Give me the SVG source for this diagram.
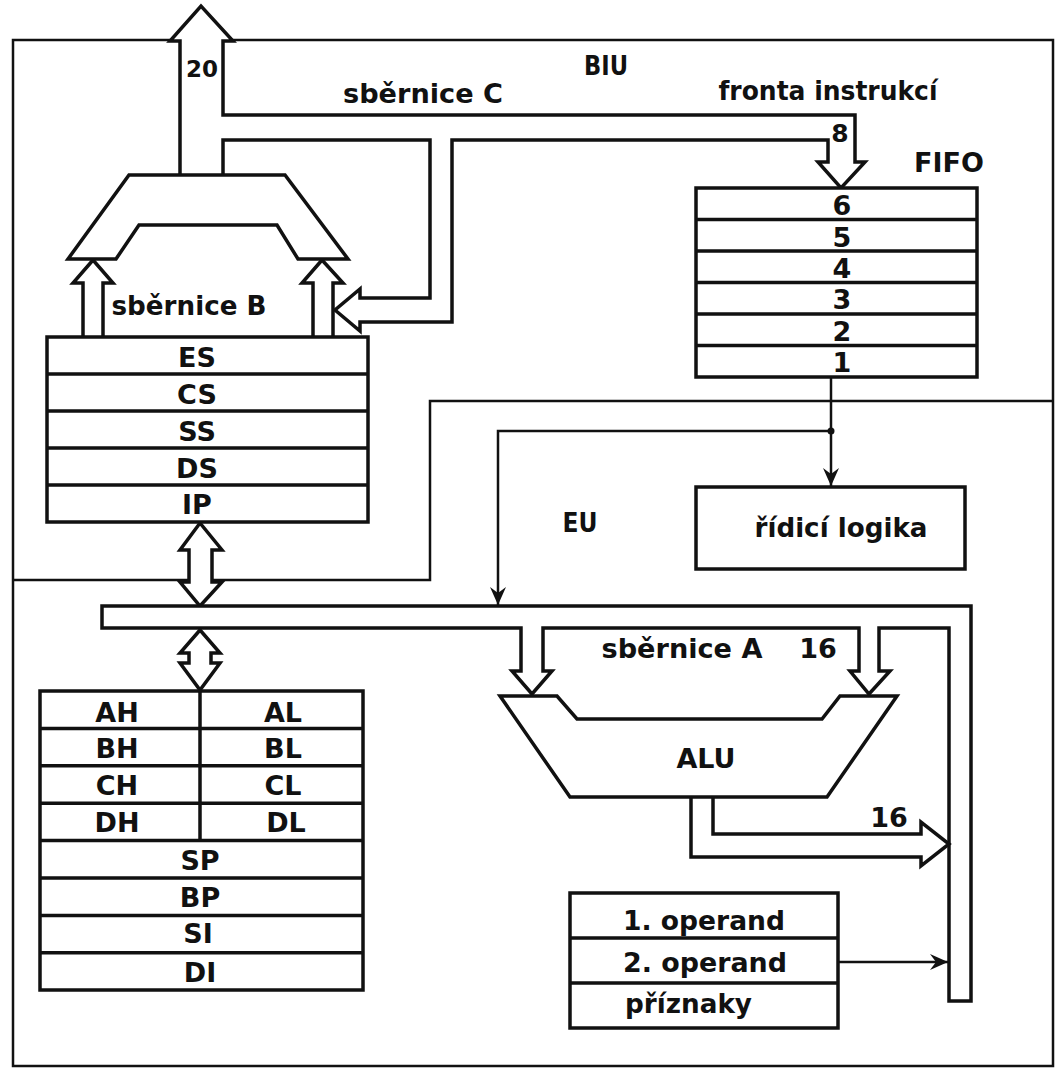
<svg xmlns="http://www.w3.org/2000/svg" width="1057" height="1071" viewBox="0 0 1057 1071">
<style>
.t{font-family:"DejaVu Sans","Liberation Sans",sans-serif;font-weight:bold;font-size:27px;fill:#111;text-anchor:middle}
.s{text-anchor:start}
.box{fill:#fff;stroke:#111;stroke-width:3.5}
.bus{fill:#fff;stroke:#111;stroke-width:3.5;stroke-linejoin:miter}
.ln{fill:none;stroke:#111;stroke-width:3.5}
.thin{fill:none;stroke:#111;stroke-width:2.5}
.frame{fill:none;stroke:#111;stroke-width:2.5}
</style>
<defs>
<marker id="ah" markerUnits="userSpaceOnUse" markerWidth="22" markerHeight="22" viewBox="-19 -11 22 22" refX="0" refY="0" orient="auto">
<path d="M0,0 L-18,-8 L-12,0 L-18,8 Z" fill="#111"/>
</marker>
</defs>
<rect width="1057" height="1071" fill="#fff"/>

<g id="frame">
<rect class="frame" x="13" y="40" width="1040" height="1026"/>
<path class="frame" d="M13,580 H430 V401 H1053"/>
<text class="t" x="606" y="75" textLength="44" lengthAdjust="spacingAndGlyphs">BIU</text>
<text class="t" x="580" y="532" textLength="35" lengthAdjust="spacingAndGlyphs">EU</text>
</g>

<g id="connectors">
<path class="bus" d="M180,175 V41 H170 L201,6 L233,41 H223 V115 H855 V162 H865 L841,188 L818,162 H828 V140 H452 V322 H360 V331 L335,310 L360,289 V298 H430 V140 H223 V175"/>
<path class="bus" d="M83,337 V283 H73 L93,260 L113,283 H103 V337"/>
<path class="bus" d="M313,337 V283 H302 L322,260 L343,283 H333 V337"/>
<path class="bus" d="M200,523 L222,550 H212 V582 H222 L200,606 L180,582 H189 V550 H180 Z"/>
<path class="bus" d="M102,606 H971 V1001 H949 V628 H879 V671 H890 L869,694 L850,671 H859 V628 H543 V671 H552 L532,694 L512,671 H521 V628 H102 Z"/>
<path class="bus" d="M200,630 L220,653 H211 V663 H220 L200,690 L180,663 H189 V653 H180 Z"/>
<path class="bus" d="M691,797 V857 H921 V866 L949,844 L921,822 V834 H713 V797"/>
<path class="thin" d="M831,377 V486" marker-end="url(#ah)"/>
<path class="thin" d="M831,431 H498 V605" marker-end="url(#ah)"/>
<circle cx="831" cy="431" r="3.5" fill="#111"/>
<path class="thin" d="M838,962 H948" marker-end="url(#ah)"/>
<text class="t" x="202" y="77" style="font-size:23px">20</text>
<text class="t" x="423" y="103" textLength="160" lengthAdjust="spacingAndGlyphs">sběrnice C</text>
<text class="t" x="828" y="100" textLength="219" lengthAdjust="spacingAndGlyphs">fronta instrukcí</text>
<text class="t" x="840" y="142" style="font-size:25px">8</text>
<text class="t" x="189" y="315" textLength="155" lengthAdjust="spacingAndGlyphs">sběrnice B</text>
<text class="t" x="682" y="658" textLength="161" lengthAdjust="spacingAndGlyphs">sběrnice A</text>
<text class="t" x="818" y="658">16</text>
<text class="t" x="889" y="827">16</text>
</g>

<g id="adder">
<path class="box" d="M129,175 H285 L348,259 H298 L277,225 H139 L116,259 H68 Z"/>
</g>

<g id="segment-registers">
<rect class="box" x="47" y="337" width="321" height="185"/>
<path class="ln" d="M47,374 H368 M47,411 H368 M47,448 H368 M47,485 H368"/>
<text class="t" x="197" y="367">ES</text>
<text class="t" x="197" y="404">CS</text>
<text class="t" x="197" y="441">SS</text>
<text class="t" x="197" y="478">DS</text>
<text class="t" x="197" y="514">IP</text>
</g>

<g id="fifo">
<rect class="box" x="696" y="188" width="281" height="189"/>
<path class="ln" d="M696,219.5 H977 M696,251 H977 M696,282.5 H977 M696,314 H977 M696,345.5 H977"/>
<text class="t" x="949" y="172">FIFO</text>
<text class="t" x="842" y="215">6</text>
<text class="t" x="842" y="247">5</text>
<text class="t" x="842" y="278">4</text>
<text class="t" x="842" y="309">3</text>
<text class="t" x="842" y="341">2</text>
<text class="t" x="842" y="372">1</text>
</g>

<g id="control-logic">
<rect class="box" x="696" y="487" width="269" height="82"/>
<text class="t" x="841" y="537" textLength="173" lengthAdjust="spacingAndGlyphs">řídicí logika</text>
</g>

<g id="general-registers">
<rect class="box" x="40" y="691" width="323" height="299"/>
<path class="ln" d="M40,728.4 H363 M40,765.8 H363 M40,803.2 H363 M40,840.6 H363 M40,878 H363 M40,915.4 H363 M40,952.8 H363 M200,691 V840.6"/>
<text class="t" x="117" y="722">AH</text>
<text class="t" x="283" y="722">AL</text>
<text class="t" x="117" y="758">BH</text>
<text class="t" x="283" y="758">BL</text>
<text class="t" x="117" y="795">CH</text>
<text class="t" x="283" y="795">CL</text>
<text class="t" x="117" y="832">DH</text>
<text class="t" x="286" y="832">DL</text>
<text class="t" x="200" y="870">SP</text>
<text class="t" x="200" y="907">BP</text>
<text class="t" x="198" y="943">SI</text>
<text class="t" x="200" y="982">DI</text>
</g>

<g id="alu">
<path class="box" d="M500,696 H557 L577,719 H822 L840,696 H897 L827,797 H570 Z"/>
<text class="t" x="706" y="768">ALU</text>
</g>

<g id="operands">
<rect class="box" x="570" y="893" width="268" height="135"/>
<path class="ln" d="M570,938 H838 M570,983 H838"/>
<text class="t s" x="623" y="930" textLength="162" lengthAdjust="spacingAndGlyphs">1. operand</text>
<text class="t s" x="623" y="972" textLength="164" lengthAdjust="spacingAndGlyphs">2. operand</text>
<text class="t s" x="625" y="1013" textLength="127" lengthAdjust="spacingAndGlyphs">příznaky</text>
</g>
</svg>
